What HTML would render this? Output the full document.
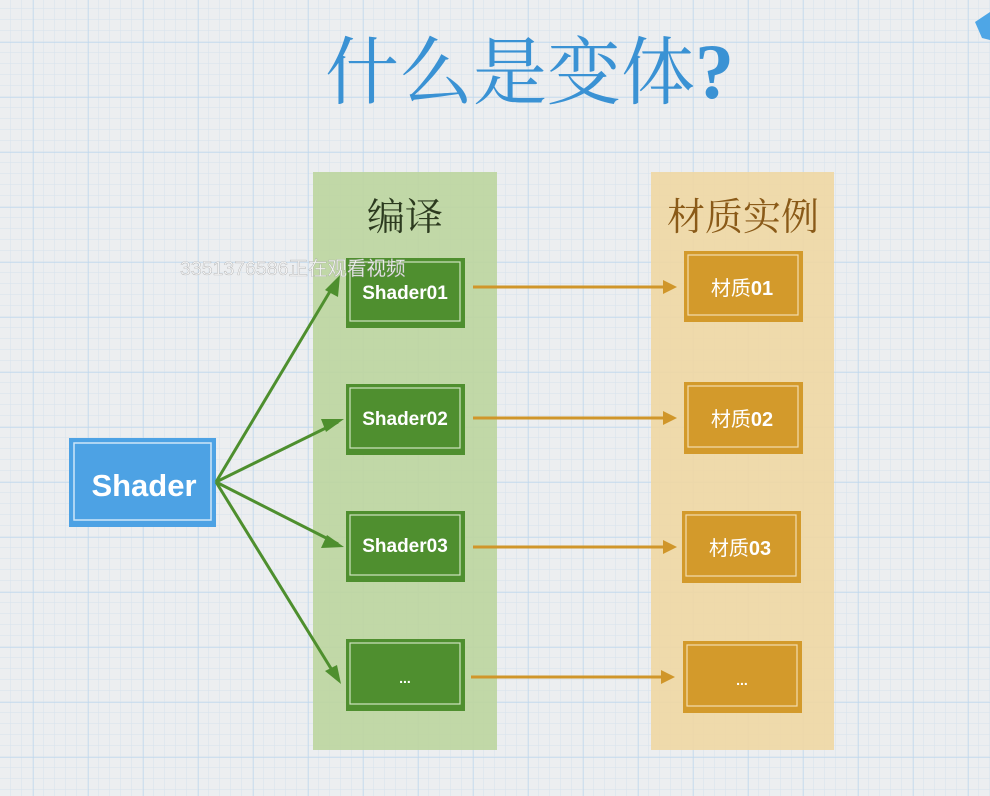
<!DOCTYPE html>
<html><head><meta charset="utf-8"><style>
html,body{margin:0;padding:0;width:990px;height:796px;overflow:hidden;background:#e9ecef;}
svg{display:block}
</style></head><body>
<svg width="990" height="796" xmlns="http://www.w3.org/2000/svg">
<defs>
<pattern id="minor" width="11" height="11" patternUnits="userSpaceOnUse" x="0" y="9">
<path d="M11 0V11M0 11H11" stroke="#d6e2ed" stroke-width="1" fill="none"/>
</pattern>
<pattern id="major" width="55" height="55" patternUnits="userSpaceOnUse" x="33" y="42">
<path d="M0 0V55M0 0H55" stroke="#bcd6ec" stroke-width="1.2" fill="none"/>
</pattern>
</defs>
<rect width="990" height="796" fill="#eceef0"/>
<rect width="990" height="796" fill="url(#minor)"/>
<rect width="990" height="796" fill="url(#major)"/>
<path d="M975 22L990 12V40L982 38z" fill="#4ea6e6"/>

<text x="325" y="98" font-family="'Liberation Serif','Noto Serif CJK SC',serif" font-size="74" fill="#3a92d4">什么是变体<tspan font-family="'Liberation Serif',serif" font-weight="bold" font-size="78">?</tspan></text>

<rect x="313" y="172" width="184" height="578" fill="#bdd59f" opacity="0.9"/>
<rect x="651" y="172" width="183" height="578" fill="#f0d7a3" opacity="0.9"/>
<text x="405" y="230" text-anchor="middle" font-family="'Noto Serif CJK SC',serif" font-size="38" fill="#2c3a1f">编译</text>
<text x="743" y="230" text-anchor="middle" font-family="'Noto Serif CJK SC',serif" font-size="38" fill="#8a5a18">材质实例</text>

<rect x="69" y="438" width="147" height="89" fill="#4da2e4"/>
<rect x="74" y="443" width="137" height="77" fill="none" stroke="#cfe6f8" stroke-width="1.5"/>
<text x="144" y="496" text-anchor="middle" font-family="'Liberation Sans',sans-serif" font-weight="bold" font-size="31" fill="#fff">Shader</text>

<g stroke="#4e8f2e" stroke-width="3" fill="none">
<line x1="216" y1="482" x2="335" y2="283"/>
<line x1="216" y1="482" x2="338" y2="422"/>
<line x1="216" y1="482" x2="338" y2="544"/>
<line x1="216" y1="482" x2="335" y2="675"/>
</g>
<g fill="#4e8f2e">
<path d="M340 275L338 297L325 290z"/>
<path d="M344 419L326 432L321 419z"/>
<path d="M344 547L321 548L327 535z"/>
<path d="M341 684L325 671L337 665z"/>
</g>

<g font-family="'Liberation Sans',sans-serif" font-weight="bold" font-size="19" fill="#fff" text-anchor="middle">
<rect x="346" y="258" width="119" height="70" fill="#4f8f2f"/><rect x="350" y="262" width="110" height="59" fill="none" stroke="#cfe3c0" stroke-width="1.2"/><text x="405" y="299">Shader01</text>
<rect x="346" y="384" width="119" height="71" fill="#4f8f2f"/><rect x="350" y="388" width="110" height="60" fill="none" stroke="#cfe3c0" stroke-width="1.2"/><text x="405" y="425">Shader02</text>
<rect x="346" y="511" width="119" height="71" fill="#4f8f2f"/><rect x="350" y="515" width="110" height="60" fill="none" stroke="#cfe3c0" stroke-width="1.2"/><text x="405" y="552">Shader03</text>
<rect x="346" y="639" width="119" height="72" fill="#4f8f2f"/><rect x="350" y="643" width="110" height="61" fill="none" stroke="#cfe3c0" stroke-width="1.2"/><text x="405" y="683" font-size="14">...</text>
</g>

<g stroke="#d0962a" stroke-width="3">
<line x1="473" y1="287" x2="665" y2="287"/>
<line x1="473" y1="418" x2="665" y2="418"/>
<line x1="473" y1="547" x2="665" y2="547"/>
<line x1="471" y1="677" x2="665" y2="677"/>
</g>
<g fill="#d0962a">
<path d="M677 287L663 280V294z"/><path d="M677 418L663 411V425z"/><path d="M677 547L663 540V554z"/><path d="M675 677L661 670V684z"/>
</g>

<g font-family="'Liberation Sans','Noto Sans CJK SC',sans-serif" font-size="20" fill="#fff" text-anchor="middle">
<rect x="684" y="251" width="119" height="71" fill="#d39a2b"/><rect x="688" y="255" width="110" height="60" fill="none" stroke="#f3dcae" stroke-width="1.2"/><text x="742" y="295">材质<tspan font-weight="bold">01</tspan></text>
<rect x="684" y="382" width="119" height="72" fill="#d39a2b"/><rect x="688" y="386" width="110" height="61" fill="none" stroke="#f3dcae" stroke-width="1.2"/><text x="742" y="426">材质<tspan font-weight="bold">02</tspan></text>
<rect x="682" y="511" width="119" height="72" fill="#d39a2b"/><rect x="686" y="515" width="110" height="61" fill="none" stroke="#f3dcae" stroke-width="1.2"/><text x="740" y="555">材质<tspan font-weight="bold">03</tspan></text>
<rect x="683" y="641" width="119" height="72" fill="#d39a2b"/><rect x="687" y="645" width="110" height="61" fill="none" stroke="#f3dcae" stroke-width="1.2"/><text x="742" y="685" font-size="14" font-weight="bold">...</text>
</g>

<text x="180" y="275" font-family="'Liberation Sans','Noto Sans CJK SC',sans-serif" font-size="19.5" fill="#f6f6f6" stroke="#a0a0a0" stroke-width="0.35" opacity="0.92">3351376586正在观看视频</text>
</svg>
</body></html>
